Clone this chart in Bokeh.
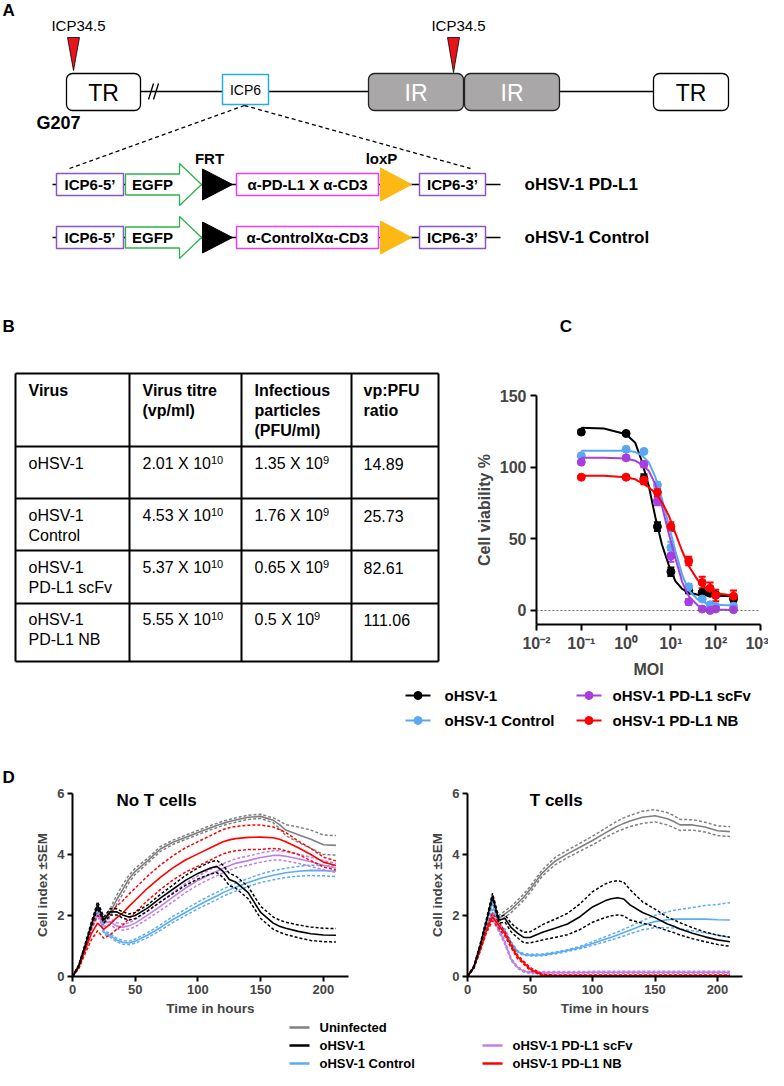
import math
from bokeh.plotting import figure
from bokeh.models import Range1d, FixedTicker, CustomJSTickFormatter, Span, Whisker, TeeHead, ColumnDataSource
from bokeh.layouts import column, row
from bokeh.core.properties import value
from bokeh.embed import file_html
from bokeh.resources import INLINE

FONT = "Liberation Sans"

# ---------------- Panel B: table data ----------------
TB_HEAD = [["Virus"], ["Virus titre", "(vp/ml)"], ["Infectious", "particles", "(PFU/ml)"], ["vp:PFU", "ratio"]]
TB_VIRUS = [["oHSV-1"], ["oHSV-1", "Control"], ["oHSV-1", "PD-L1 scFv"], ["oHSV-1", "PD-L1 NB"]]
TB_TITRE = ["2.01", "4.53", "5.37", "5.55"]
TB_TITRE_EXP = ["10", "10", "10", "10"]
TB_PFU = ["1.35", "1.76", "0.65", "0.5"]
TB_PFU_EXP = ["9", "9", "9", "9"]
TB_RATIO = ["14.89", "25.73", "82.61", "111.06"]

# ---------------- Panel C: cell viability vs MOI ----------------
MOI = [0.1, 1, 2.5, 5, 10, 25, 50, 75, 100, 250]
VIA_OHSV = [124.5, 123.5, 92, 58.5, 27, 14, 12.5, 12, 11, 8]
VIA_CTRL = [108, 112.5, 111, 87.5, 44, 16.5, 8, 4, 3, 3]
VIA_SCFV = [103.5, 106.5, 102, 76.5, 38, 6, 1, 0, 1, 0.5]
VIA_NB = [93, 93, 91, 82.5, 58.5, 34.5, 19.5, 15.5, 10.5, 10]
SEM_OHSV = [1, 1, 3, 3, 3, 2, 1, 1, 1, 1]
SEM_CTRL = [1, 1, 1, 2, 4, 2, 1, 1, 1, 1]
SEM_SCFV = [1, 1, 2, 3, 4, 2, 1, 1, 1, 1]
SEM_NB = [1, 1, 3, 3, 3, 3, 4, 4, 4, 4]
FIT_MOI = [0.1, 0.32, 1, 1.6, 2.2, 3.2, 4.5, 6.3, 8.9, 12.6, 17.8, 25, 40, 63, 100, 250]
FIT_OHSV = [127.5, 127, 123, 117, 105, 87, 65, 46, 32, 20.5, 15, 12.5, 11, 10.5, 10.3, 10]
FIT_CTRL = [111.5, 111.5, 111.5, 110.5, 108.5, 103.5, 93, 78, 60, 41.5, 25, 14, 7.5, 4.8, 4, 3.5]
FIT_SCFV = [106.5, 106.5, 106, 104.5, 102, 97.5, 88, 73, 54, 36.5, 20, 10, 3.5, 1.2, 0.6, 0.3]
FIT_NB = [94, 94, 93, 91.5, 89, 86, 82, 75.5, 66.5, 54, 41.5, 31, 21, 15, 12, 10.5]
C_TICKS_X = [0.01, 0.1, 1, 10, 100, 1000]
C_TICKS_Y = [0, 50, 100, 150]

# ---------------- Panel D: cell index over time ----------------
T = [0, 5, 10, 15, 20, 25, 30, 35, 40, 45, 50, 60, 70, 80, 90, 100, 110, 115, 120, 125, 130, 140, 150, 160, 165, 170, 180, 190, 200, 210]
NT_UNINF = [0, 0.35, 1.0, 1.6, 2.2, 1.8, 2.1, 2.5, 2.85, 3.2, 3.45, 3.8, 4.18, 4.4, 4.56, 4.72, 4.88, 4.95, 5.02, 5.08, 5.13, 5.22, 5.25, 5.12, 4.98, 4.8, 4.65, 4.5, 4.32, 4.3]
NT_UNINF_SEM = [0, 0.03, 0.05, 0.08, 0.1, 0.1, 0.12, 0.15, 0.15, 0.12, 0.1, 0.08, 0.08, 0.07, 0.07, 0.07, 0.07, 0.07, 0.07, 0.07, 0.07, 0.07, 0.07, 0.08, 0.12, 0.18, 0.25, 0.3, 0.32, 0.32]
NT_OHSV = [0, 0.35, 1.0, 1.7, 2.35, 1.85, 2.12, 2.12, 2.02, 1.95, 2.0, 2.25, 2.57, 2.86, 3.15, 3.38, 3.56, 3.61, 3.45, 3.18, 3.1, 2.75, 2.1, 1.75, 1.65, 1.58, 1.48, 1.4, 1.36, 1.35]
NT_OHSV_SEM = [0, 0.03, 0.05, 0.08, 0.1, 0.1, 0.1, 0.1, 0.1, 0.1, 0.1, 0.1, 0.12, 0.14, 0.16, 0.18, 0.2, 0.2, 0.2, 0.2, 0.2, 0.2, 0.2, 0.2, 0.2, 0.2, 0.21, 0.22, 0.22, 0.22]
NT_CTRL = [0, 0.33, 0.95, 1.65, 2.2, 1.45, 1.35, 1.2, 1.12, 1.1, 1.16, 1.36, 1.6, 1.87, 2.1, 2.33, 2.54, 2.64, 2.75, 2.84, 2.93, 3.08, 3.22, 3.32, 3.36, 3.4, 3.45, 3.48, 3.47, 3.45]
NT_CTRL_SEM = [0, 0.03, 0.04, 0.05, 0.06, 0.06, 0.06, 0.06, 0.06, 0.06, 0.07, 0.08, 0.09, 0.1, 0.1, 0.11, 0.12, 0.12, 0.12, 0.12, 0.13, 0.13, 0.14, 0.15, 0.15, 0.15, 0.16, 0.17, 0.17, 0.17]
NT_SCFV = [0, 0.33, 0.95, 1.6, 2.05, 1.75, 1.8, 1.66, 1.62, 1.66, 1.75, 2.02, 2.3, 2.6, 2.9, 3.15, 3.36, 3.45, 3.55, 3.63, 3.71, 3.8, 3.9, 3.97, 3.97, 3.94, 3.86, 3.76, 3.65, 3.56]
NT_SCFV_SEM = [0, 0.03, 0.05, 0.08, 0.1, 0.1, 0.1, 0.1, 0.1, 0.1, 0.12, 0.13, 0.14, 0.15, 0.15, 0.15, 0.15, 0.15, 0.15, 0.15, 0.15, 0.15, 0.15, 0.15, 0.15, 0.15, 0.15, 0.15, 0.15, 0.15]
NT_NB = [0, 0.3, 0.85, 1.4, 1.75, 1.55, 1.72, 1.92, 2.08, 2.3, 2.5, 2.9, 3.25, 3.56, 3.82, 4.02, 4.22, 4.32, 4.42, 4.48, 4.52, 4.56, 4.57, 4.55, 4.5, 4.42, 4.22, 4.0, 3.75, 3.64]
NT_NB_SEM = [0, 0.05, 0.1, 0.2, 0.25, 0.3, 0.35, 0.38, 0.4, 0.4, 0.4, 0.4, 0.4, 0.4, 0.4, 0.4, 0.4, 0.4, 0.4, 0.4, 0.4, 0.4, 0.4, 0.35, 0.32, 0.3, 0.22, 0.2, 0.16, 0.15]

TC_UNINF = [0, 0.3, 0.9, 1.6, 2.1, 1.9, 2.05, 2.2, 2.4, 2.6, 2.85, 3.4, 3.78, 4.02, 4.24, 4.46, 4.7, 4.82, 4.93, 5.02, 5.1, 5.22, 5.27, 5.17, 5.08, 4.97, 4.97, 4.9, 4.78, 4.75]
TC_UNINF_SEM = [0, 0.03, 0.05, 0.08, 0.1, 0.1, 0.1, 0.1, 0.1, 0.1, 0.1, 0.1, 0.12, 0.12, 0.13, 0.14, 0.15, 0.16, 0.17, 0.18, 0.18, 0.2, 0.2, 0.2, 0.2, 0.18, 0.17, 0.16, 0.16, 0.16]
TC_OHSV = [0, 0.3, 1.0, 1.8, 2.65, 1.85, 1.9, 1.6, 1.42, 1.28, 1.28, 1.45, 1.58, 1.72, 1.96, 2.28, 2.48, 2.55, 2.58, 2.54, 2.35, 2.1, 1.93, 1.72, 1.65, 1.56, 1.42, 1.3, 1.2, 1.14]
TC_OHSV_SEM = [0, 0.03, 0.05, 0.07, 0.08, 0.1, 0.12, 0.14, 0.15, 0.17, 0.18, 0.25, 0.3, 0.35, 0.42, 0.5, 0.55, 0.56, 0.56, 0.55, 0.5, 0.35, 0.28, 0.22, 0.21, 0.2, 0.18, 0.16, 0.15, 0.15]
TC_CTRL = [0, 0.3, 0.95, 1.7, 2.45, 1.65, 1.5, 1.1, 0.82, 0.72, 0.7, 0.71, 0.77, 0.85, 0.95, 1.08, 1.22, 1.29, 1.36, 1.44, 1.52, 1.68, 1.8, 1.86, 1.88, 1.88, 1.88, 1.88, 1.86, 1.85]
TC_CTRL_SEM = [0, 0.03, 0.05, 0.07, 0.1, 0.08, 0.06, 0.04, 0.03, 0.03, 0.03, 0.03, 0.03, 0.03, 0.04, 0.06, 0.08, 0.09, 0.1, 0.11, 0.12, 0.15, 0.2, 0.26, 0.29, 0.32, 0.38, 0.45, 0.5, 0.57]
TC_SCFV = [0, 0.3, 0.9, 1.5, 2.0, 1.55, 1.1, 0.55, 0.3, 0.17, 0.13, 0.13, 0.13, 0.13, 0.13, 0.14, 0.14, 0.14, 0.14, 0.14, 0.14, 0.14, 0.14, 0.14, 0.14, 0.14, 0.14, 0.14, 0.14, 0.14]
TC_SCFV_SEM = [0, 0.03, 0.05, 0.07, 0.1, 0.08, 0.06, 0.04, 0.03, 0.03, 0.03, 0.03, 0.03, 0.03, 0.03, 0.03, 0.03, 0.03, 0.03, 0.03, 0.03, 0.03, 0.03, 0.03, 0.03, 0.03, 0.03, 0.03, 0.03, 0.03]
TC_NB = [0, 0.3, 0.85, 1.5, 1.95, 1.68, 1.4, 1.0, 0.65, 0.45, 0.25, 0.05, 0.03, 0.03, 0.03, 0.03, 0.03, 0.03, 0.03, 0.03, 0.03, 0.03, 0.03, 0.03, 0.03, 0.03, 0.03, 0.03, 0.03, 0.03]
TC_NB_SEM = [0, 0.03, 0.05, 0.08, 0.12, 0.1, 0.08, 0.07, 0.06, 0.05, 0.05, 0.03, 0.02, 0.02, 0.02, 0.02, 0.02, 0.02, 0.02, 0.02, 0.02, 0.02, 0.02, 0.02, 0.02, 0.02, 0.02, 0.02, 0.02, 0.02]
D_TICKS_X = [0, 50, 100, 150, 200]
D_TICKS_Y = [0, 2, 4, 6]

C_NAMES = ["oHSV-1", "oHSV-1 PD-L1 scFv", "oHSV-1 Control", "oHSV-1 PD-L1 NB"]
D_NAMES = ["Uninfected", "oHSV-1", "oHSV-1 Control", "oHSV-1 PD-L1 scFv", "oHSV-1 PD-L1 NB"]

# colours
C_BLACK, C_BLUE, C_PURPLE, C_RED = "#000000", "#58A9F2", "#A83EE0", "#FF0000"
D_GRAY, D_BLACK, D_BLUE, D_PURPLE, D_RED = "#808080", "#000000", "#5CACF2", "#BF7FE6", "#FF0000"


def canvas(x0, x1, y0, y1):
    p = figure(width=x1 - x0, height=y1 - y0, x_range=Range1d(x0, x1), y_range=Range1d(y1, y0),
               output_backend="svg", toolbar_location=None, min_border=0,
               x_axis_location=None, y_axis_location=None, outline_line_color=None)
    p.grid.visible = False
    return p


def txt(p, x, y, s, size, bold=False, align="left", color="black", angle=0.0, baseline="middle"):
    p.text(x=[x], y=[y], text=[s], text_font=value(FONT), text_font_size=f"{size}px",
           text_font_style="bold" if bold else "normal", text_align=align,
           text_baseline=baseline, text_color=color, angle=angle)


CW = {'.': .278, ' ': .278, 'X': .667}


def width_reg(s, size):
    return sum(CW.get(c, .556) for c in s) * size


# ================= Panel A =================
pa = canvas(8, 776, 8, 280)
txt(pa, 10, 18, "A", 17, bold=True)
# backbone
pa.line(x=[148, 661], y=[99, 99], line_color="black", line_width=1.5)
pa.segment(x0=[156, 161], y0=[107, 107], x1=[161, 166], y1=[91, 91], line_color="black", line_width=1.3)
# TR boxes
TR_L, TR_R = [74, 661], [148, 736]
pa.quad(left=TR_L, right=TR_R, top=[81, 81], bottom=[118, 118], fill_color="white",
        line_color="black", line_width=1.3, border_radius=6)
for l, r in zip(TR_L, TR_R):
    txt(pa, (l + r) / 2, 100, "TR", 23, align="center")
# IR boxes
IR_L, IR_R = [376, 472], [471, 567]
pa.quad(left=IR_L, right=IR_R, top=[81, 81], bottom=[118, 118], fill_color="#A9A7A8",
        line_color="#222222", line_width=1.3, border_radius=6)
for l, r in zip(IR_L, IR_R):
    txt(pa, (l + r) / 2, 100, "IR", 23, align="center", color="white")
# ICP6 box
pa.quad(left=[230], right=[276], top=[82], bottom=[112], fill_color="white", line_color="#29ABE2", line_width=1.5)
txt(pa, 253, 97, "ICP6", 14, align="center")
# ICP34.5 markers
for x, tip in [(81, 78), (461, 80)]:
    pa.patch(x=[x - 6, x + 6, x], y=[45, 45, tip], fill_color="#E8141C", line_color="black", line_width=0.8)
    txt(pa, x + 5, 33, "ICP34.5", 15, align="center")
txt(pa, 44, 130, "G207", 18, bold=True)
# zoom lines
pa.segment(x0=[252, 252], y0=[113, 113], x1=[77, 478], y1=[176, 176], line_color="black",
           line_width=1.3, line_dash="4 3")
# constructs
ROWS_Y = [192, 245]
MID_TXT = ["α-PD-L1 X α-CD3", "α-ControlXα-CD3"]
ROW_LAB = ["oHSV-1 PD-L1", "oHSV-1 Control"]
for yc, mid, lab in zip(ROWS_Y, MID_TXT, ROW_LAB):
    pa.line(x=[60, 508], y=[yc, yc], line_color="black", line_width=1.3)
    pa.quad(left=[64, 427], right=[131, 493], top=[yc - 11] * 2, bottom=[yc + 11] * 2,
            fill_color="white", line_color="#8B55C8", line_width=1.5)
    txt(pa, 97.5, yc, "ICP6-5’", 15, bold=True, align="center")
    txt(pa, 460, yc, "ICP6-3’", 15, bold=True, align="center")
    pa.patch(x=[133, 187, 187, 209, 187, 187, 133],
             y=[yc - 10.5, yc - 10.5, yc - 21, yc, yc + 21, yc + 10.5, yc + 10.5],
             fill_color="white", line_color="#2DB34A", line_width=1.3)
    txt(pa, 160, yc, "EGFP", 15, bold=True, align="center")
    pa.patch(x=[210, 210, 240], y=[yc - 15.5, yc + 15.5, yc], fill_color="black", line_color="black")
    pa.quad(left=[244], right=[386], top=[yc - 11], bottom=[yc + 11], fill_color="white",
            line_color="#EE3BEE", line_width=1.5)
    txt(pa, 315, yc, mid, 15, bold=True, align="center")
    pa.patch(x=[388, 388, 419], y=[yc - 16.5, yc + 16.5, yc], fill_color="#FDB913", line_color="#FDB913")
    txt(pa, 532, yc, lab, 17, bold=True)
txt(pa, 217, 166, "FRT", 15, bold=True, align="center")
txt(pa, 389, 166, "loxP", 15, bold=True, align="center")

# ================= Panel B =================
pb = canvas(8, 450, 280, 690)
txt(pb, 10, 334, "B", 17, bold=True)
HL = [381, 454, 506, 558, 611, 669]
VL = [23, 137, 249, 359, 446]
pb.segment(x0=[VL[0]] * len(HL), x1=[VL[-1]] * len(HL), y0=HL, y1=HL, line_color="black", line_width=2)
pb.segment(x0=VL, x1=VL, y0=[HL[0]] * len(VL), y1=[HL[-1]] * len(VL), line_color="black", line_width=2)
COLX = [36, 150, 262, 371]
for cx, lines in zip(COLX, TB_HEAD):
    for k, s in enumerate(lines):
        txt(pb, cx, 398 + 20 * k, s, 16, bold=True)
ROWY = [471, 523, 575, 627]
for i, ry in enumerate(ROWY):
    for k, s in enumerate(TB_VIRUS[i]):
        txt(pb, COLX[0], ry + 20 * k, s, 16)
    m1 = f"{TB_TITRE[i]} X 10"
    txt(pb, COLX[1], ry, m1, 16)
    txt(pb, COLX[1] + width_reg(m1, 16), ry - 4, TB_TITRE_EXP[i], 11)
    m2 = f"{TB_PFU[i]} X 10"
    txt(pb, COLX[2], ry, m2, 16)
    txt(pb, COLX[2] + width_reg(m2, 16), ry - 4, TB_PFU_EXP[i], 11)
    txt(pb, COLX[3], ry, TB_RATIO[i], 16)

# ================= Panel C =================
pct = canvas(450, 776, 280, 380)
txt(pct, 484, 334, "C", 17, bold=True)

pc = figure(width=326, height=310, x_axis_type="log", x_range=Range1d(0.01, 1000), y_range=Range1d(-9.8, 150),
            output_backend="svg", toolbar_location=None, min_border_left=94, min_border_right=8,
            min_border_top=23, min_border_bottom=58, outline_line_color=None)
pc.grid.visible = False
pc.add_layout(Span(location=0, dimension="width", line_color="#666666", line_width=1, line_dash="2 2"))
series_c = [(FIT_OHSV, VIA_OHSV, SEM_OHSV, C_BLACK), (FIT_CTRL, VIA_CTRL, SEM_CTRL, C_BLUE),
            (FIT_SCFV, VIA_SCFV, SEM_SCFV, C_PURPLE), (FIT_NB, VIA_NB, SEM_NB, C_RED)]
for fit, pts, sem, col in series_c:
    pc.line(x=FIT_MOI, y=fit, line_color=col, line_width=2)
    src = ColumnDataSource(dict(x=MOI, lo=[v - s for v, s in zip(pts, sem)], hi=[v + s for v, s in zip(pts, sem)]))
    pc.add_layout(Whisker(source=src, base="x", lower="lo", upper="hi", line_color=col, line_width=2,
                          upper_head=TeeHead(size=7, line_color=col, line_width=2),
                          lower_head=TeeHead(size=7, line_color=col, line_width=2)))
    pc.scatter(x=MOI, y=pts, size=8, fill_color=col, line_color=col)
pc.xaxis.ticker = FixedTicker(ticks=C_TICKS_X)
pc.yaxis.ticker = FixedTicker(ticks=C_TICKS_Y)
pc.xaxis.formatter = CustomJSTickFormatter(code="""
const e = Math.round(Math.log10(tick));
const m = {"-": "\u207B", "0": "\u2070", "1": "\u00B9", "2": "\u00B2", "3": "\u00B3"};
return "10" + String(e).split("").map(c => m[c]).join("");
""")
pc.xaxis.axis_label = "MOI"
pc.yaxis.axis_label = "Cell viability %"
for ax in (pc.xaxis[0], pc.yaxis[0]):
    ax.axis_line_width = 2
    ax.major_tick_line_width = 2
    ax.major_tick_out = 6
    ax.major_tick_in = 0
    ax.minor_tick_line_color = None
    ax.major_label_text_font = FONT
    ax.major_label_text_font_style = "bold"
    ax.major_label_text_font_size = "16px"
    ax.major_label_standoff = 4
    ax.axis_label_text_font = FONT
    ax.axis_label_text_font_style = "bold"
    ax.axis_label_text_font_size = "16px"
pc.xaxis.axis_label_standoff = 6
pc.yaxis.axis_label_standoff = 4

# ================= middle strip: legend C + D letter =================
pm = canvas(8, 776, 690, 794)
LEG_C = [(C_NAMES[0], C_BLACK, 413, 452, 703), (C_NAMES[1], C_PURPLE, 584, 620, 703),
         (C_NAMES[2], C_BLUE, 413, 452, 728), (C_NAMES[3], C_RED, 584, 620, 728)]
for name, col, lx, tx, ly in LEG_C:
    pm.line(x=[lx, lx + 25], y=[ly, ly], line_color=col, line_width=2)
    pm.scatter(x=[lx + 12.5], y=[ly], size=8, fill_color=col, line_color=col)
    txt(pm, tx, ly, name, 15, bold=True)
txt(pm, 10, 785, "D", 17, bold=True)


# ================= Panel D =================
def dplot(width, mleft, mright, title, tx, series):
    p = figure(width=width, height=232, x_range=Range1d(0, 220), y_range=Range1d(0, 6),
               output_backend="svg", toolbar_location=None, min_border_left=mleft, min_border_right=mright,
               min_border_top=7, min_border_bottom=41, outline_line_color=None)
    p.grid.visible = False
    for mean, sem, col in series:
        up = [m + s for m, s in zip(mean, sem)]
        lo = [max(m - s, 0) for m, s in zip(mean, sem)]
        p.line(x=T, y=up, line_color=col, line_width=1.5, line_dash="3 2")
        p.line(x=T, y=lo, line_color=col, line_width=1.5, line_dash="3 2")
        p.line(x=T, y=mean, line_color=col, line_width=1.6)
    p.text(x=[tx], y=[5.77], text=[title], text_font=value(FONT), text_font_size="17px",
           text_font_style="bold", text_align="center", text_baseline="middle")
    p.xaxis.ticker = FixedTicker(ticks=D_TICKS_X)
    p.yaxis.ticker = FixedTicker(ticks=D_TICKS_Y)
    p.xaxis.axis_label = "Time in hours"
    p.yaxis.axis_label = "Cell index ±SEM"
    for ax in (p.xaxis[0], p.yaxis[0]):
        ax.axis_line_width = 2
        ax.major_tick_line_width = 2
        ax.major_tick_out = 5
        ax.major_tick_in = 0
        ax.minor_tick_line_color = None
        ax.major_label_text_font = FONT
        ax.major_label_text_font_style = "bold"
        ax.major_label_text_font_size = "13px"
        ax.major_label_standoff = 3
        ax.axis_label_text_font = FONT
        ax.axis_label_text_font_style = "bold"
        ax.axis_label_text_font_size = "13.5px"
    p.xaxis.axis_label_standoff = 4
    p.yaxis.axis_label_standoff = 4
    return p


pdl = dplot(392, 72, 44, "No T cells", 67,
            [(NT_UNINF, NT_UNINF_SEM, D_GRAY), (NT_CTRL, NT_CTRL_SEM, D_BLUE), (NT_SCFV, NT_SCFV_SEM, D_PURPLE),
             (NT_NB, NT_NB_SEM, D_RED), (NT_OHSV, NT_OHSV_SEM, D_BLACK)])
pdr = dplot(376, 75, 26, "T cells", 71,
            [(TC_UNINF, TC_UNINF_SEM, D_GRAY), (TC_CTRL, TC_CTRL_SEM, D_BLUE), (TC_SCFV, TC_SCFV_SEM, D_PURPLE),
             (TC_NB, TC_NB_SEM, D_RED), (TC_OHSV, TC_OHSV_SEM, D_BLACK)])

# ================= bottom legend =================
pl = canvas(8, 776, 1026, 1078)
LEG_D = [(D_NAMES[0], D_GRAY, 297, 327, 1035), (D_NAMES[1], D_BLACK, 297, 327, 1053),
         (D_NAMES[2], D_BLUE, 297, 327, 1071), (D_NAMES[3], D_PURPLE, 490, 520, 1053),
         (D_NAMES[4], D_RED, 490, 520, 1071)]
for name, col, lx, tx, ly in LEG_D:
    pl.line(x=[lx, lx + 20], y=[ly, ly], line_color=col, line_width=2.5)
    txt(pl, tx, ly, name, 13, bold=True)

layout = column(pa, row(pb, column(pct, pc)), pm, row(pdl, pdr), pl)
open("out.html", "w").write(file_html(layout, INLINE))
